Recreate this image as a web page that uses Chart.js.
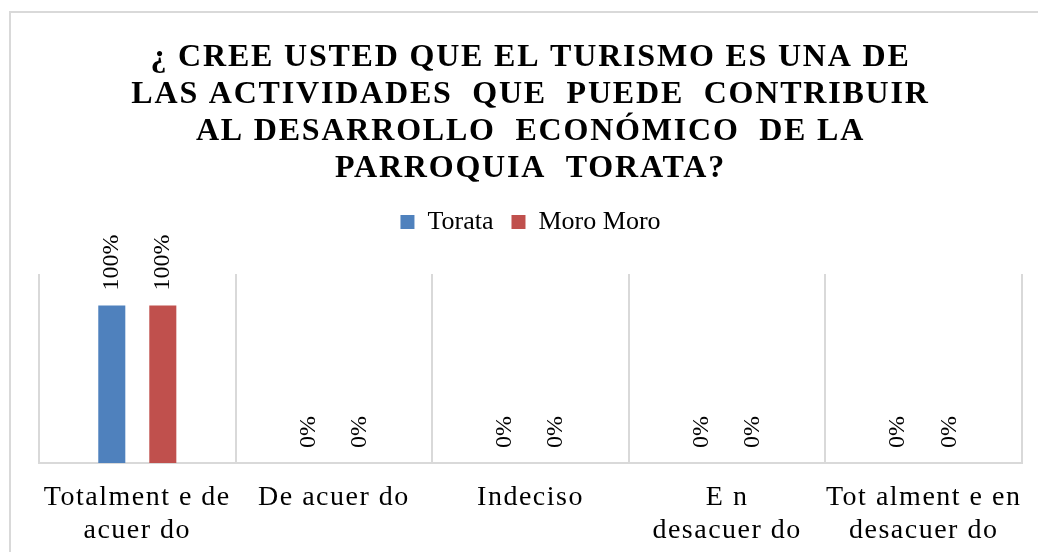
<!DOCTYPE html>
<html>
<head>
<meta charset="utf-8">
<script src="https://cdn.jsdelivr.net/npm/chart.js@4.4.0/dist/chart.umd.min.js"></script>
<style>
  html, body { margin: 0; padding: 0; background: #ffffff; }
  #wrap { position: relative; width: 1038px; height: 552px; }
</style>
</head>
<body>
<div id="wrap"><canvas id="chart" width="1038" height="552"></canvas></div>
<script>
// ---- data ----
const titleLines = [
  "¿ CREE USTED QUE EL TURISMO ES UNA DE",
  "LAS ACTIVIDADES  QUE  PUEDE  CONTRIBUIR",
  "AL DESARROLLO  ECONÓMICO  DE LA",
  "PARROQUIA  TORATA?"
];
const categories = [
  ["Totalment e de", "acuer do"],
  "De acuer do",
  "Indeciso",
  ["E n", "desacuer do"],
  ["Tot alment e en", "desacuer do"]
];
const seriesNames = ["Torata", "Moro Moro"];
const torataValues = [100, 0, 0, 0, 0];
const moroMoroValues = [100, 0, 0, 0, 0];
const seriesColors = ["#4f81bd", "#c0504d"];
const yMax = 120;

// ---- plugins ----
const frame = {
  id: 'frame',
  beforeDraw(chart) {
    const ctx = chart.ctx;
    ctx.save();
    ctx.fillStyle = '#ffffff';
    ctx.fillRect(0, 0, chart.width, chart.height);
    ctx.strokeStyle = '#d9d9d9';
    ctx.lineWidth = 2;
    ctx.strokeRect(10, 12, 1200, 700);
    ctx.restore();
  }
};

// letter spacing for title and category labels (as in the reference)
const spacing = {
  id: 'spacing',
  beforeDraw(chart) {
    const patch = (obj, key, sp) => {
      if (!obj || obj['__patched_' + key]) return;
      const orig = obj[key];
      obj[key] = function (...args) {
        const ctx = chart.ctx;
        const prev = ctx.letterSpacing;
        ctx.letterSpacing = sp;
        try { return orig.apply(this, args); } finally { ctx.letterSpacing = prev; }
      };
      obj['__patched_' + key] = true;
    };
    patch(chart.titleBlock, 'draw', '1.8px');
    patch(chart.scales.x, 'drawLabels', '1.5px');
  }
};

const legendGap = {
  id: 'legendGap',
  beforeInit(chart) {
    Chart.layouts.addBox(chart, {
      position: 'top',
      weight: 500,
      fullSize: true,
      options: {},
      left: 0, top: 0, right: 0, bottom: 0, width: 0, height: 0,
      isHorizontal() { return true; },
      update(maxWidth) { this.width = maxWidth; this.height = 29; },
      draw() {}
    });
  }
};

const valueLabels = {
  id: 'valueLabels',
  afterDatasetsDraw(chart) {
    const ctx = chart.ctx;
    ctx.save();
    ctx.letterSpacing = '0px';
    ctx.font = '24px "Liberation Serif", "Times New Roman", serif';
    ctx.fillStyle = '#000000';
    ctx.textAlign = 'left';
    ctx.textBaseline = 'middle';
    chart.data.datasets.forEach((ds, di) => {
      const meta = chart.getDatasetMeta(di);
      meta.data.forEach((el, i) => {
        const text = ds.data[i] + '%';
        ctx.save();
        ctx.translate(el.x, el.y - 15);
        ctx.rotate(-Math.PI / 2);
        ctx.fillText(text, 0, 0);
        ctx.restore();
      });
    });
    ctx.restore();
  }
};

new Chart(document.getElementById('chart'), {
  type: 'bar',
  data: {
    labels: categories,
    datasets: [
      { label: seriesNames[0], data: torataValues, backgroundColor: seriesColors[0] },
      { label: seriesNames[1], data: moroMoroValues, backgroundColor: seriesColors[1] }
    ]
  },
  options: {
    responsive: false,
    animation: false,
    devicePixelRatio: 1,
    categoryPercentage: 0.519,
    barPercentage: 0.53,
    layout: { padding: { left: 39, right: 16, top: 0, bottom: -13.4 } },
    plugins: {
      title: {
        display: true,
        text: titleLines,
        color: '#000000',
        font: { family: '"Liberation Serif", "Times New Roman", serif', size: 32, weight: 'bold', lineHeight: 1.15 },
        padding: { top: 39.6, bottom: 4.2 }
      },
      legend: {
        display: true,
        position: 'top',
        labels: {
          color: '#000000',
          boxWidth: 14,
          boxHeight: 14,
          padding: 18,
          font: { family: '"Liberation Serif", "Times New Roman", serif', size: 26 }
        }
      },
      tooltip: { enabled: false }
    },
    scales: {
      x: {
        grid: { display: true, color: '#d9d9d9', lineWidth: 2, drawTicks: false, offset: true },
        border: { display: true, color: '#d9d9d9', width: 2 },
        ticks: {
          color: '#000000',
          padding: 19,
          maxRotation: 0,
          autoSkip: false,
          font: { family: '"Liberation Serif", "Times New Roman", serif', size: 28, lineHeight: 1.15 }
        }
      },
      y: {
        display: false,
        min: 0,
        max: yMax
      }
    }
  },
  plugins: [frame, spacing, legendGap, valueLabels]
});
</script>
</body>
</html>
